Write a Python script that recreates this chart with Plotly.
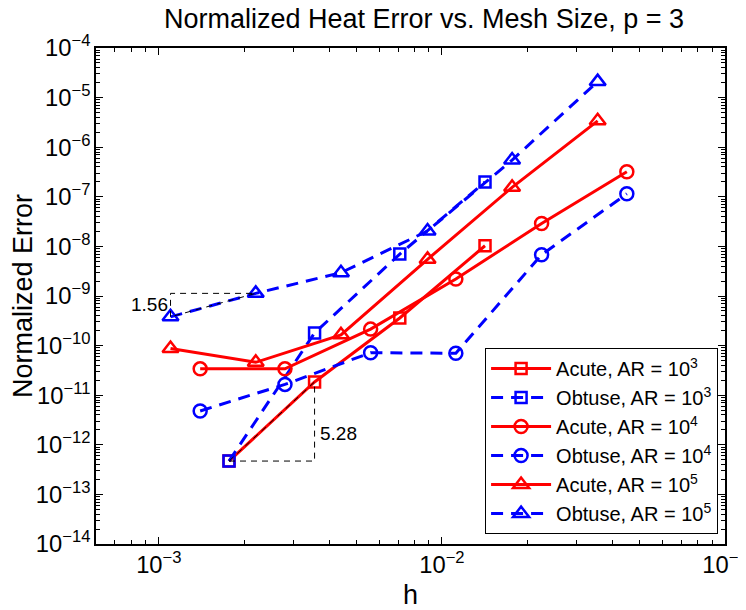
import numpy as np
import plotly.graph_objects as go

# ---- data ----
h_sq = [1.77e-3, 3.55e-3, 7.1e-3, 1.42e-2]
err_acute_1e3 = [4.7e-13, 1.85e-11, 3.6e-10, 1.03e-8]
err_obtuse_1e3 = [4.7e-13, 1.8e-10, 7.0e-9, 1.99e-7]

h_circ = [1.40e-3, 2.79e-3, 5.6e-3, 1.12e-2, 2.25e-2, 4.5e-2]
err_acute_1e4 = [3.4e-11, 3.4e-11, 2.15e-10, 2.2e-9, 2.9e-8, 3.2e-7]
err_obtuse_1e4 = [4.8e-12, 1.65e-11, 7.2e-11, 7.0e-11, 6.8e-9, 1.15e-7]

h_tri = [1.10e-3, 2.2e-3, 4.4e-3, 8.9e-3, 1.77e-2, 3.55e-2]
err_acute_1e5 = [8.7e-11, 4.6e-11, 1.65e-10, 5.5e-9, 1.55e-7, 3.4e-6]
err_obtuse_1e5 = [3.8e-10, 1.13e-9, 2.95e-9, 2.05e-8, 5.5e-7, 2.1e-5]

names = ["Acute, AR = 10<sup>3</sup>", "Obtuse, AR = 10<sup>3</sup>",
         "Acute, AR = 10<sup>4</sup>", "Obtuse, AR = 10<sup>4</sup>",
         "Acute, AR = 10<sup>5</sup>", "Obtuse, AR = 10<sup>5</sup>"]
slope_labels = ["1.56", "5.28"]

x_range_log = [np.log10(6e-4), -1]
y_range_log = [-14, -4]

FONT = "Liberation Sans, Arial, Helvetica, sans-serif"
RED = "#FF0000"
BLUE = "#0000FF"
DASH = "12px,8px"

# the page body adds an 8 px offset; size the figure so it fits the 746x610 window
PAGE_OFF = 8
W, H = 746 - PAGE_OFF, 610 - PAGE_OFF

series = [
    (h_sq, err_acute_1e3, RED, "solid", "square-open", 11),
    (h_sq, err_obtuse_1e3, BLUE, DASH, "square-open", 11),
    (h_circ, err_acute_1e4, RED, "solid", "circle-open", 13),
    (h_circ, err_obtuse_1e4, BLUE, DASH, "circle-open", 13),
    (h_tri, err_acute_1e5, RED, "solid", "triangle-up-open", 14),
    (h_tri, err_obtuse_1e5, BLUE, DASH, "triangle-up-open", 14),
]

fig = go.Figure()
for (x, y, c, d, sym, sz), nm in zip(series, names):
    fig.add_trace(go.Scatter(
        x=x, y=y, name=nm, legendgroup=nm, mode="lines+markers",
        line=dict(color=c, width=3, dash=d),
        marker=dict(symbol=sym, size=sz, color=c, line=dict(color=c, width=2.5)),
    ))

# slope triangle 1: obtuse AR=1e5, first two points (corner at upper-left)
h1, h2 = h_tri[0], h_tri[1]
e1, e2 = err_obtuse_1e5[0], err_obtuse_1e5[1]
fig.add_trace(go.Scatter(x=[h1, h1, h2, h1], y=[e1, e2, e2, e1], mode="lines",
                         line=dict(color="black", width=1, dash="6px,5px"),
                         showlegend=False, hoverinfo="skip"))
# slope triangle 2: acute AR=1e3, first two points (corner at lower-right)
g1, g2 = h_sq[0], h_sq[1]
f1, f2 = err_acute_1e3[0], err_acute_1e3[1]
fig.add_trace(go.Scatter(x=[g1, g2, g2, g1], y=[f1, f1, f2, f1], mode="lines",
                         line=dict(color="black", width=1, dash="6px,5px"),
                         showlegend=False, hoverinfo="skip"))

fig.add_annotation(x=np.log10(h1), y=np.log10(e2), text=slope_labels[0],
                   showarrow=False, xanchor="right", yanchor="top", xshift=-1, yshift=1,
                   font=dict(family=FONT, size=19, color="black"))
fig.add_annotation(x=np.log10(g2), y=(np.log10(f1) + np.log10(f2)) / 2, text=slope_labels[1],
                   showarrow=False, xanchor="left", yanchor="middle", xshift=3, yshift=-12,
                   font=dict(family=FONT, size=19, color="black"))

axis_common = dict(
    type="log", showgrid=False, zeroline=False,
    showline=True, linecolor="black", linewidth=1.5, mirror="ticks",
    ticks="inside", ticklen=7, tickcolor="black", tickwidth=1,
    exponentformat="power", dtick=1,
    tickfont=dict(family=FONT, size=19, color="black"),
    minor=dict(dtick="D1", ticks="inside", ticklen=4, tickcolor="black", tickwidth=1, showgrid=False),
)

fig.update_xaxes(**axis_common, range=x_range_log, ticklabeloverflow="allow",
                 title=dict(text="h", font=dict(family=FONT, size=27, color="black"), standoff=9))
fig.update_yaxes(**axis_common, range=y_range_log,
                 title=dict(text="Normalized Error", font=dict(family=FONT, size=27, color="black"), standoff=0))

fig.update_layout(
    width=W, height=H,
    margin=dict(l=96 - PAGE_OFF, r=21, t=48 - PAGE_OFF, b=66, autoexpand=False),
    paper_bgcolor="white", plot_bgcolor="white",
    title=dict(text="Normalized Heat Error vs. Mesh Size, p = 3", x=(424 - PAGE_OFF) / W, xref="container",
               xanchor="center", y=1 - (19 - PAGE_OFF) / H, yanchor="middle",
               font=dict(family=FONT, size=27, color="black")),
    legend=dict(x=0.989, y=0.02, xanchor="right", yanchor="bottom",
                bordercolor="black", borderwidth=1, bgcolor="white",
                font=dict(family=FONT, size=20, color="black"),
                tracegroupgap=0, itemwidth=60),
    showlegend=True,
)

fig.write_html("out.html")
